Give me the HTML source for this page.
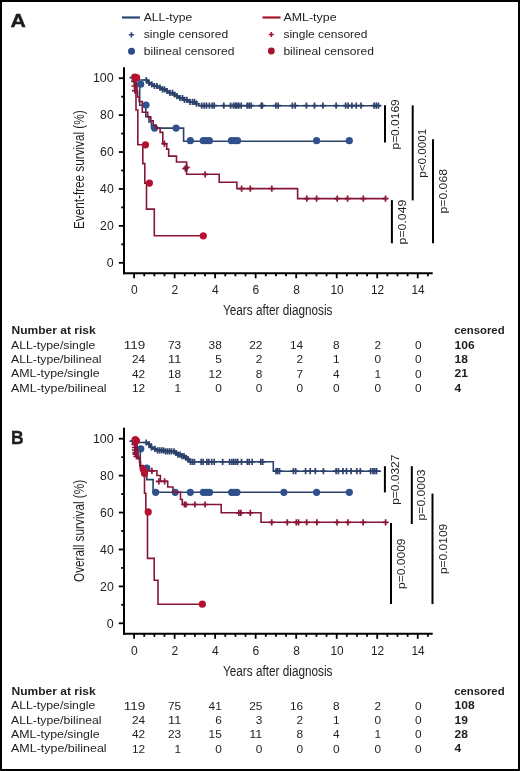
<!DOCTYPE html>
<html><head><meta charset="utf-8"><title>Figure</title>
<style>html,body{margin:0;padding:0;background:#fff;width:520px;height:771px;overflow:hidden}svg{display:block;will-change:transform}</style>
</head><body>
<svg width="520" height="771" viewBox="0 0 520 771">
<rect x="0" y="0" width="520" height="771" fill="#fff"/>
<g font-family='"Liberation Sans", sans-serif'>
<text x="10.6" y="26.7" font-size="19" fill="#1e1e1e" font-weight="bold" textLength="15.4" lengthAdjust="spacingAndGlyphs" stroke="#1e1e1e" stroke-width="0.4">A</text>
<text x="11.0" y="443.8" font-size="19" fill="#1e1e1e" font-weight="bold" textLength="12.6" lengthAdjust="spacingAndGlyphs" stroke="#1e1e1e" stroke-width="0.4">B</text>
<line x1="122" y1="17.5" x2="140" y2="17.5" stroke="#2c4677" stroke-width="2.2"/>
<line x1="262.5" y1="17.5" x2="280.5" y2="17.5" stroke="#a3122f" stroke-width="2.2"/>
<path d="M128.8,34.8H134.0M131.4,32.2V37.4" stroke="#2c4677" stroke-width="1.6" fill="none"/>
<path d="M268.7,34.5H273.9M271.3,31.9V37.1" stroke="#a3122f" stroke-width="1.6" fill="none"/>
<circle cx="131.5" cy="51.3" r="3.5" fill="#2d4c8a"/>
<circle cx="271.3" cy="51.0" r="3.4" fill="#a8102e"/>
<text x="143.8" y="21.0" font-size="11.2" fill="#1e1e1e" textLength="48.4" lengthAdjust="spacingAndGlyphs">ALL-type</text>
<text x="143.8" y="38.0" font-size="11.2" fill="#1e1e1e" textLength="84.4" lengthAdjust="spacingAndGlyphs">single censored</text>
<text x="143.8" y="54.5" font-size="11.2" fill="#1e1e1e" textLength="90.6" lengthAdjust="spacingAndGlyphs">bilineal censored</text>
<text x="283.4" y="21.0" font-size="11.2" fill="#1e1e1e" textLength="53.2" lengthAdjust="spacingAndGlyphs">AML-type</text>
<text x="283.4" y="38.0" font-size="11.2" fill="#1e1e1e" textLength="84.0" lengthAdjust="spacingAndGlyphs">single censored</text>
<text x="283.4" y="54.5" font-size="11.2" fill="#1e1e1e" textLength="90.6" lengthAdjust="spacingAndGlyphs">bilineal censored</text>
<line x1="124" y1="67.3" x2="124" y2="274.3" stroke="#000" stroke-width="2"/>
<line x1="123" y1="273.3" x2="432.7" y2="273.3" stroke="#000" stroke-width="2"/>
<line x1="118.8" y1="262.80" x2="124" y2="262.80" stroke="#000" stroke-width="1.8"/>
<text x="113.7" y="267.00" font-size="12" fill="#1e1e1e" text-anchor="end" textLength="6.9" lengthAdjust="spacingAndGlyphs">0</text>
<line x1="121.2" y1="244.34" x2="124" y2="244.34" stroke="#000" stroke-width="1.8"/>
<line x1="118.8" y1="225.88" x2="124" y2="225.88" stroke="#000" stroke-width="1.8"/>
<text x="113.7" y="230.08" font-size="12" fill="#1e1e1e" text-anchor="end" textLength="13.6" lengthAdjust="spacingAndGlyphs">20</text>
<line x1="121.2" y1="207.42" x2="124" y2="207.42" stroke="#000" stroke-width="1.8"/>
<line x1="118.8" y1="188.96" x2="124" y2="188.96" stroke="#000" stroke-width="1.8"/>
<text x="113.7" y="193.16" font-size="12" fill="#1e1e1e" text-anchor="end" textLength="13.6" lengthAdjust="spacingAndGlyphs">40</text>
<line x1="121.2" y1="170.50" x2="124" y2="170.50" stroke="#000" stroke-width="1.8"/>
<line x1="118.8" y1="152.04" x2="124" y2="152.04" stroke="#000" stroke-width="1.8"/>
<text x="113.7" y="156.24" font-size="12" fill="#1e1e1e" text-anchor="end" textLength="13.6" lengthAdjust="spacingAndGlyphs">60</text>
<line x1="121.2" y1="133.58" x2="124" y2="133.58" stroke="#000" stroke-width="1.8"/>
<line x1="118.8" y1="115.12" x2="124" y2="115.12" stroke="#000" stroke-width="1.8"/>
<text x="113.7" y="119.32" font-size="12" fill="#1e1e1e" text-anchor="end" textLength="13.6" lengthAdjust="spacingAndGlyphs">80</text>
<line x1="121.2" y1="96.66" x2="124" y2="96.66" stroke="#000" stroke-width="1.8"/>
<line x1="118.8" y1="78.20" x2="124" y2="78.20" stroke="#000" stroke-width="1.8"/>
<text x="113.7" y="82.40" font-size="12" fill="#1e1e1e" text-anchor="end" textLength="20.8" lengthAdjust="spacingAndGlyphs">100</text>
<line x1="134.10" y1="273.3" x2="134.10" y2="278.3" stroke="#000" stroke-width="1.8"/>
<text x="134.40" y="294.0" font-size="12" fill="#1e1e1e" text-anchor="middle" textLength="6.7" lengthAdjust="spacingAndGlyphs">0</text>
<line x1="144.23" y1="273.3" x2="144.23" y2="276.3" stroke="#000" stroke-width="1.8"/>
<line x1="154.36" y1="273.3" x2="154.36" y2="276.3" stroke="#000" stroke-width="1.8"/>
<line x1="164.49" y1="273.3" x2="164.49" y2="276.3" stroke="#000" stroke-width="1.8"/>
<line x1="174.62" y1="273.3" x2="174.62" y2="278.3" stroke="#000" stroke-width="1.8"/>
<text x="174.92" y="294.0" font-size="12" fill="#1e1e1e" text-anchor="middle" textLength="6.7" lengthAdjust="spacingAndGlyphs">2</text>
<line x1="184.75" y1="273.3" x2="184.75" y2="276.3" stroke="#000" stroke-width="1.8"/>
<line x1="194.88" y1="273.3" x2="194.88" y2="276.3" stroke="#000" stroke-width="1.8"/>
<line x1="205.01" y1="273.3" x2="205.01" y2="276.3" stroke="#000" stroke-width="1.8"/>
<line x1="215.14" y1="273.3" x2="215.14" y2="278.3" stroke="#000" stroke-width="1.8"/>
<text x="215.44" y="294.0" font-size="12" fill="#1e1e1e" text-anchor="middle" textLength="6.7" lengthAdjust="spacingAndGlyphs">4</text>
<line x1="225.27" y1="273.3" x2="225.27" y2="276.3" stroke="#000" stroke-width="1.8"/>
<line x1="235.40" y1="273.3" x2="235.40" y2="276.3" stroke="#000" stroke-width="1.8"/>
<line x1="245.53" y1="273.3" x2="245.53" y2="276.3" stroke="#000" stroke-width="1.8"/>
<line x1="255.66" y1="273.3" x2="255.66" y2="278.3" stroke="#000" stroke-width="1.8"/>
<text x="255.96" y="294.0" font-size="12" fill="#1e1e1e" text-anchor="middle" textLength="6.7" lengthAdjust="spacingAndGlyphs">6</text>
<line x1="265.79" y1="273.3" x2="265.79" y2="276.3" stroke="#000" stroke-width="1.8"/>
<line x1="275.92" y1="273.3" x2="275.92" y2="276.3" stroke="#000" stroke-width="1.8"/>
<line x1="286.05" y1="273.3" x2="286.05" y2="276.3" stroke="#000" stroke-width="1.8"/>
<line x1="296.18" y1="273.3" x2="296.18" y2="278.3" stroke="#000" stroke-width="1.8"/>
<text x="296.48" y="294.0" font-size="12" fill="#1e1e1e" text-anchor="middle" textLength="6.7" lengthAdjust="spacingAndGlyphs">8</text>
<line x1="306.31" y1="273.3" x2="306.31" y2="276.3" stroke="#000" stroke-width="1.8"/>
<line x1="316.44" y1="273.3" x2="316.44" y2="276.3" stroke="#000" stroke-width="1.8"/>
<line x1="326.57" y1="273.3" x2="326.57" y2="276.3" stroke="#000" stroke-width="1.8"/>
<line x1="336.70" y1="273.3" x2="336.70" y2="278.3" stroke="#000" stroke-width="1.8"/>
<text x="337.00" y="294.0" font-size="12" fill="#1e1e1e" text-anchor="middle" textLength="13.2" lengthAdjust="spacingAndGlyphs">10</text>
<line x1="346.83" y1="273.3" x2="346.83" y2="276.3" stroke="#000" stroke-width="1.8"/>
<line x1="356.96" y1="273.3" x2="356.96" y2="276.3" stroke="#000" stroke-width="1.8"/>
<line x1="367.09" y1="273.3" x2="367.09" y2="276.3" stroke="#000" stroke-width="1.8"/>
<line x1="377.22" y1="273.3" x2="377.22" y2="278.3" stroke="#000" stroke-width="1.8"/>
<text x="377.52" y="294.0" font-size="12" fill="#1e1e1e" text-anchor="middle" textLength="13.2" lengthAdjust="spacingAndGlyphs">12</text>
<line x1="387.35" y1="273.3" x2="387.35" y2="276.3" stroke="#000" stroke-width="1.8"/>
<line x1="397.48" y1="273.3" x2="397.48" y2="276.3" stroke="#000" stroke-width="1.8"/>
<line x1="407.61" y1="273.3" x2="407.61" y2="276.3" stroke="#000" stroke-width="1.8"/>
<line x1="417.74" y1="273.3" x2="417.74" y2="278.3" stroke="#000" stroke-width="1.8"/>
<text x="418.04" y="294.0" font-size="12" fill="#1e1e1e" text-anchor="middle" textLength="13.2" lengthAdjust="spacingAndGlyphs">14</text>
<line x1="427.87" y1="273.3" x2="427.87" y2="276.3" stroke="#000" stroke-width="1.8"/>
<text x="223.0" y="315.0" font-size="15.5" fill="#1e1e1e" textLength="109.5" lengthAdjust="spacingAndGlyphs">Years after diagnosis</text>
<text x="83.6" y="169.7" font-size="15.5" fill="#1e1e1e" text-anchor="middle" textLength="118.5" lengthAdjust="spacingAndGlyphs" transform="rotate(-90 83.6 169.7)">Event-free survival (%)</text>
<path d="M134.1,78.3 H136.5 V84.2 H139.7 V105.2 H145.8 V116.6 H149 V122 H151.5 V128.1 H183.6 V141.2 H349.3" stroke="#2b406a" stroke-width="1.6" fill="none" stroke-linejoin="miter" stroke-linecap="butt"/>
<path d="M134.1,78.3 H135.6 V80.0 H147.2 V81.4 H148.9 V82.9 H150.6 V84.3 H151.5 H153.4 V86.0 H157.3 V87.6 H161.2 V89.3 H163.1 H165.0 V91.0 H168.8 V92.8 H172.7 V94.5 H174.6 H176.1 V96.2 H178.9 V98.0 H180.4 H183.3 V99.9 H189.1 V101.8 H192.0 H195.3 V103.7 H198.7 V105.7 H380.5" stroke="#2b406a" stroke-width="1.6" fill="none" stroke-linejoin="miter" stroke-linecap="butt"/>
<path d="M143.2,80.0H149.4M146.3,76.9V83.1" stroke="#2b406a" stroke-width="1.7" fill="none"/>
<path d="M145.9,82.9H152.1M149.0,79.8V86.0" stroke="#2b406a" stroke-width="1.7" fill="none"/>
<path d="M148.7,84.3H154.9M151.8,81.2V87.4" stroke="#2b406a" stroke-width="1.7" fill="none"/>
<path d="M151.4,86.0H157.6M154.5,82.9V89.1" stroke="#2b406a" stroke-width="1.7" fill="none"/>
<path d="M153.9,86.0H160.1M157.0,82.9V89.1" stroke="#2b406a" stroke-width="1.7" fill="none"/>
<path d="M156.9,87.6H163.1M160.0,84.5V90.7" stroke="#2b406a" stroke-width="1.7" fill="none"/>
<path d="M159.4,89.3H165.6M162.5,86.2V92.4" stroke="#2b406a" stroke-width="1.7" fill="none"/>
<path d="M161.4,89.3H167.6M164.5,86.2V92.4" stroke="#2b406a" stroke-width="1.7" fill="none"/>
<path d="M163.9,91.0H170.1M167.0,87.9V94.1" stroke="#2b406a" stroke-width="1.7" fill="none"/>
<path d="M166.9,92.8H173.1M170.0,89.7V95.9" stroke="#2b406a" stroke-width="1.7" fill="none"/>
<path d="M169.4,92.8H175.6M172.5,89.7V95.9" stroke="#2b406a" stroke-width="1.7" fill="none"/>
<path d="M171.4,94.5H177.6M174.5,91.4V97.6" stroke="#2b406a" stroke-width="1.7" fill="none"/>
<path d="M173.9,96.2H180.1M177.0,93.1V99.3" stroke="#2b406a" stroke-width="1.7" fill="none"/>
<path d="M176.9,98.0H183.1M180.0,94.9V101.1" stroke="#2b406a" stroke-width="1.7" fill="none"/>
<path d="M179.4,98.0H185.6M182.5,94.9V101.1" stroke="#2b406a" stroke-width="1.7" fill="none"/>
<path d="M181.4,99.9H187.6M184.5,96.8V103.0" stroke="#2b406a" stroke-width="1.7" fill="none"/>
<path d="M183.9,99.9H190.1M187.0,96.8V103.0" stroke="#2b406a" stroke-width="1.7" fill="none"/>
<path d="M186.9,101.8H193.1M190.0,98.7V104.9" stroke="#2b406a" stroke-width="1.7" fill="none"/>
<path d="M189.4,101.8H195.6M192.5,98.7V104.9" stroke="#2b406a" stroke-width="1.7" fill="none"/>
<path d="M191.4,101.8H197.6M194.5,98.7V104.9" stroke="#2b406a" stroke-width="1.7" fill="none"/>
<path d="M193.4,103.7H199.6M196.5,100.6V106.8" stroke="#2b406a" stroke-width="1.7" fill="none"/>
<path d="M198.6,105.7H204.8M201.7,102.6V108.8" stroke="#2b406a" stroke-width="1.7" fill="none"/>
<path d="M201.1,105.7H207.3M204.2,102.6V108.8" stroke="#2b406a" stroke-width="1.7" fill="none"/>
<path d="M203.4,105.7H209.6M206.5,102.6V108.8" stroke="#2b406a" stroke-width="1.7" fill="none"/>
<path d="M206.3,105.7H212.5M209.4,102.6V108.8" stroke="#2b406a" stroke-width="1.7" fill="none"/>
<path d="M209.2,105.7H215.4M212.3,102.6V108.8" stroke="#2b406a" stroke-width="1.7" fill="none"/>
<path d="M211.1,105.7H217.3M214.2,102.6V108.8" stroke="#2b406a" stroke-width="1.7" fill="none"/>
<path d="M220.7,105.7H226.9M223.8,102.6V108.8" stroke="#2b406a" stroke-width="1.7" fill="none"/>
<path d="M227.5,105.7H233.7M230.6,102.6V108.8" stroke="#2b406a" stroke-width="1.7" fill="none"/>
<path d="M230.4,105.7H236.6M233.5,102.6V108.8" stroke="#2b406a" stroke-width="1.7" fill="none"/>
<path d="M232.3,105.7H238.5M235.4,102.6V108.8" stroke="#2b406a" stroke-width="1.7" fill="none"/>
<path d="M233.8,105.7H240.0M236.9,102.6V108.8" stroke="#2b406a" stroke-width="1.7" fill="none"/>
<path d="M235.7,105.7H241.9M238.8,102.6V108.8" stroke="#2b406a" stroke-width="1.7" fill="none"/>
<path d="M238.1,105.7H244.3M241.2,102.6V108.8" stroke="#2b406a" stroke-width="1.7" fill="none"/>
<path d="M244.2,105.7H250.4M247.3,102.6V108.8" stroke="#2b406a" stroke-width="1.7" fill="none"/>
<path d="M246.1,105.7H252.3M249.2,102.6V108.8" stroke="#2b406a" stroke-width="1.7" fill="none"/>
<path d="M248.1,105.7H254.3M251.2,102.6V108.8" stroke="#2b406a" stroke-width="1.7" fill="none"/>
<path d="M258.2,105.7H264.4M261.3,102.6V108.8" stroke="#2b406a" stroke-width="1.7" fill="none"/>
<path d="M259.2,105.7H265.4M262.3,102.6V108.8" stroke="#2b406a" stroke-width="1.7" fill="none"/>
<path d="M272.7,105.7H278.9M275.8,102.6V108.8" stroke="#2b406a" stroke-width="1.7" fill="none"/>
<path d="M275.0,105.7H281.2M278.1,102.6V108.8" stroke="#2b406a" stroke-width="1.7" fill="none"/>
<path d="M289.3,105.7H295.5M292.4,102.6V108.8" stroke="#2b406a" stroke-width="1.7" fill="none"/>
<path d="M292.1,105.7H298.3M295.2,102.6V108.8" stroke="#2b406a" stroke-width="1.7" fill="none"/>
<path d="M303.3,105.7H309.5M306.4,102.6V108.8" stroke="#2b406a" stroke-width="1.7" fill="none"/>
<path d="M311.4,105.7H317.6M314.5,102.6V108.8" stroke="#2b406a" stroke-width="1.7" fill="none"/>
<path d="M319.8,105.7H326.0M322.9,102.6V108.8" stroke="#2b406a" stroke-width="1.7" fill="none"/>
<path d="M333.0,105.7H339.2M336.1,102.6V108.8" stroke="#2b406a" stroke-width="1.7" fill="none"/>
<path d="M342.5,105.7H348.7M345.6,102.6V108.8" stroke="#2b406a" stroke-width="1.7" fill="none"/>
<path d="M345.0,105.7H351.2M348.1,102.6V108.8" stroke="#2b406a" stroke-width="1.7" fill="none"/>
<path d="M348.8,105.7H355.0M351.9,102.6V108.8" stroke="#2b406a" stroke-width="1.7" fill="none"/>
<path d="M353.1,105.7H359.3M356.2,102.6V108.8" stroke="#2b406a" stroke-width="1.7" fill="none"/>
<path d="M357.9,105.7H364.1M361.0,102.6V108.8" stroke="#2b406a" stroke-width="1.7" fill="none"/>
<path d="M371.0,105.7H377.2M374.1,102.6V108.8" stroke="#2b406a" stroke-width="1.7" fill="none"/>
<path d="M373.2,105.7H379.4M376.3,102.6V108.8" stroke="#2b406a" stroke-width="1.7" fill="none"/>
<path d="M375.3,105.7H381.5M378.4,102.6V108.8" stroke="#2b406a" stroke-width="1.7" fill="none"/>
<path d="M129.5,77.6H135.7M132.6,74.5V80.7" stroke="#2b406a" stroke-width="1.7" fill="none"/>
<circle cx="140.7" cy="84.2" r="3.6" fill="#30508c"/>
<circle cx="146.0" cy="105.0" r="3.6" fill="#30508c"/>
<circle cx="154.6" cy="128.1" r="3.6" fill="#30508c"/>
<circle cx="176.1" cy="128.1" r="3.6" fill="#30508c"/>
<circle cx="190.3" cy="140.7" r="3.6" fill="#30508c"/>
<circle cx="203.3" cy="140.7" r="3.6" fill="#30508c"/>
<circle cx="206.3" cy="140.7" r="3.6" fill="#30508c"/>
<circle cx="209.4" cy="140.7" r="3.6" fill="#30508c"/>
<circle cx="231.4" cy="140.7" r="3.6" fill="#30508c"/>
<circle cx="234.5" cy="140.7" r="3.6" fill="#30508c"/>
<circle cx="237.5" cy="140.7" r="3.6" fill="#30508c"/>
<circle cx="316.6" cy="140.7" r="3.6" fill="#30508c"/>
<circle cx="349.3" cy="140.7" r="3.6" fill="#30508c"/>
<path d="M134.1,78.3 H136 V110 H137.8 V144.8 H142.8 V163.6 H144.8 V183.1 H146.5 V209.1 H154.3 V235.8 H203.3" stroke="#871636" stroke-width="1.6" fill="none" stroke-linejoin="miter" stroke-linecap="butt"/>
<path d="M134.1,78.3 H135 V82 H136 V87 H137 V92 H137.6 V97 H139.2 V101.5 H142.3 V112.3 H147.7 V116.9 H150.8 V120.8 H153.2 V125 H156 V128.1 H160.1 V132.4 H162.8 V143.7 H166.7 V149.1 H168.7 V156.1 H176.5 V162 H186.6 V174.3 H219.2 V182.2 H236.9 V188.6 H297.6 V198.6 H386.5" stroke="#871636" stroke-width="1.6" fill="none" stroke-linejoin="miter" stroke-linecap="butt"/>
<path d="M131.1,81.3H137.3M134.2,78.2V84.4" stroke="#871636" stroke-width="1.7" fill="none"/>
<path d="M131.4,86.0H137.6M134.5,82.9V89.1" stroke="#871636" stroke-width="1.7" fill="none"/>
<path d="M131.9,90.7H138.1M135.0,87.6V93.8" stroke="#871636" stroke-width="1.7" fill="none"/>
<path d="M161.3,143.7H167.5M164.4,140.6V146.8" stroke="#871636" stroke-width="1.7" fill="none"/>
<path d="M183.5,167.3H189.7M186.6,164.2V170.4" stroke="#871636" stroke-width="1.7" fill="none"/>
<path d="M182.3,168.6H188.5M185.4,165.5V171.7" stroke="#871636" stroke-width="1.7" fill="none"/>
<path d="M202.1,174.3H208.3M205.2,171.2V177.4" stroke="#871636" stroke-width="1.7" fill="none"/>
<path d="M238.5,188.6H244.7M241.6,185.5V191.7" stroke="#871636" stroke-width="1.7" fill="none"/>
<path d="M247.2,188.6H253.4M250.3,185.5V191.7" stroke="#871636" stroke-width="1.7" fill="none"/>
<path d="M268.7,188.6H274.9M271.8,185.5V191.7" stroke="#871636" stroke-width="1.7" fill="none"/>
<path d="M303.7,198.6H309.9M306.8,195.5V201.7" stroke="#871636" stroke-width="1.7" fill="none"/>
<path d="M313.5,198.6H319.7M316.6,195.5V201.7" stroke="#871636" stroke-width="1.7" fill="none"/>
<path d="M334.1,198.6H340.3M337.2,195.5V201.7" stroke="#871636" stroke-width="1.7" fill="none"/>
<path d="M344.5,198.6H350.7M347.6,195.5V201.7" stroke="#871636" stroke-width="1.7" fill="none"/>
<path d="M360.2,198.6H366.4M363.3,195.5V201.7" stroke="#871636" stroke-width="1.7" fill="none"/>
<path d="M382.4,198.6H388.6M385.5,195.5V201.7" stroke="#871636" stroke-width="1.7" fill="none"/>
<circle cx="134.8" cy="77.2" r="3.6" fill="#b5102f"/>
<circle cx="136.6" cy="77.6" r="3.6" fill="#b5102f"/>
<circle cx="145.5" cy="144.8" r="3.6" fill="#b5102f"/>
<circle cx="149.4" cy="183.1" r="3.6" fill="#b5102f"/>
<circle cx="203.3" cy="235.8" r="3.6" fill="#b5102f"/>
<line x1="385" y1="105.2" x2="385" y2="142.5" stroke="#000" stroke-width="2"/>
<line x1="412.7" y1="105.4" x2="412.7" y2="200.4" stroke="#000" stroke-width="2"/>
<line x1="433" y1="139.3" x2="433" y2="243.3" stroke="#000" stroke-width="2"/>
<line x1="391.9" y1="200.1" x2="391.9" y2="243.3" stroke="#000" stroke-width="2"/>
<text x="399.2" y="124.4" font-size="11" fill="#1e1e1e" text-anchor="middle" textLength="50.2" lengthAdjust="spacingAndGlyphs" transform="rotate(-90 399.2 124.4)">p=0.0169</text>
<text x="426.4" y="153.35" font-size="11" fill="#1e1e1e" text-anchor="middle" textLength="49.0" lengthAdjust="spacingAndGlyphs" transform="rotate(-90 426.4 153.35)">p&lt;0.0001</text>
<text x="446.7" y="191.25" font-size="11" fill="#1e1e1e" text-anchor="middle" textLength="44.6" lengthAdjust="spacingAndGlyphs" transform="rotate(-90 446.7 191.25)">p=0.068</text>
<text x="406.0" y="222.0" font-size="11" fill="#1e1e1e" text-anchor="middle" textLength="44.8" lengthAdjust="spacingAndGlyphs" transform="rotate(-90 406.0 222.0)">p=0.049</text>
<text x="11.5" y="334.4" font-size="11" fill="#1e1e1e" font-weight="bold" textLength="84.2" lengthAdjust="spacingAndGlyphs">Number at risk</text>
<text x="454.2" y="334.4" font-size="11" fill="#1e1e1e" font-weight="bold" textLength="50.4" lengthAdjust="spacingAndGlyphs">censored</text>
<text x="11.0" y="348.68" font-size="11" fill="#1e1e1e" textLength="84.2" lengthAdjust="spacingAndGlyphs">ALL-type/single</text>
<text x="145.2" y="349.18" font-size="11" fill="#1e1e1e" text-anchor="end" textLength="21.5" lengthAdjust="spacingAndGlyphs">119</text>
<text x="181.2" y="349.18" font-size="11" fill="#1e1e1e" text-anchor="end" textLength="13.2" lengthAdjust="spacingAndGlyphs">73</text>
<text x="221.8" y="349.18" font-size="11" fill="#1e1e1e" text-anchor="end" textLength="13.2" lengthAdjust="spacingAndGlyphs">38</text>
<text x="262.4" y="349.18" font-size="11" fill="#1e1e1e" text-anchor="end" textLength="13.2" lengthAdjust="spacingAndGlyphs">22</text>
<text x="303.2" y="349.18" font-size="11" fill="#1e1e1e" text-anchor="end" textLength="13.2" lengthAdjust="spacingAndGlyphs">14</text>
<text x="339.6" y="349.18" font-size="11" fill="#1e1e1e" text-anchor="end" textLength="6.6" lengthAdjust="spacingAndGlyphs">8</text>
<text x="381.2" y="349.18" font-size="11" fill="#1e1e1e" text-anchor="end" textLength="6.6" lengthAdjust="spacingAndGlyphs">2</text>
<text x="421.6" y="349.18" font-size="11" fill="#1e1e1e" text-anchor="end" textLength="6.6" lengthAdjust="spacingAndGlyphs">0</text>
<text x="454.6" y="348.68" font-size="11" fill="#1e1e1e" font-weight="bold" textLength="20.1" lengthAdjust="spacingAndGlyphs">106</text>
<text x="11.0" y="362.96" font-size="11" fill="#1e1e1e" textLength="90.6" lengthAdjust="spacingAndGlyphs">ALL-type/bilineal</text>
<text x="145.2" y="363.46" font-size="11" fill="#1e1e1e" text-anchor="end" textLength="13.2" lengthAdjust="spacingAndGlyphs">24</text>
<text x="181.2" y="363.46" font-size="11" fill="#1e1e1e" text-anchor="end" textLength="13.2" lengthAdjust="spacingAndGlyphs">11</text>
<text x="221.8" y="363.46" font-size="11" fill="#1e1e1e" text-anchor="end" textLength="6.6" lengthAdjust="spacingAndGlyphs">5</text>
<text x="262.4" y="363.46" font-size="11" fill="#1e1e1e" text-anchor="end" textLength="6.6" lengthAdjust="spacingAndGlyphs">2</text>
<text x="303.2" y="363.46" font-size="11" fill="#1e1e1e" text-anchor="end" textLength="6.6" lengthAdjust="spacingAndGlyphs">2</text>
<text x="339.6" y="363.46" font-size="11" fill="#1e1e1e" text-anchor="end" textLength="6.6" lengthAdjust="spacingAndGlyphs">1</text>
<text x="381.2" y="363.46" font-size="11" fill="#1e1e1e" text-anchor="end" textLength="6.6" lengthAdjust="spacingAndGlyphs">0</text>
<text x="421.6" y="363.46" font-size="11" fill="#1e1e1e" text-anchor="end" textLength="6.6" lengthAdjust="spacingAndGlyphs">0</text>
<text x="454.6" y="362.96" font-size="11" fill="#1e1e1e" font-weight="bold" textLength="13.4" lengthAdjust="spacingAndGlyphs">18</text>
<text x="11.0" y="377.24" font-size="11" fill="#1e1e1e" textLength="88.6" lengthAdjust="spacingAndGlyphs">AML-type/single</text>
<text x="145.2" y="377.74" font-size="11" fill="#1e1e1e" text-anchor="end" textLength="13.2" lengthAdjust="spacingAndGlyphs">42</text>
<text x="181.2" y="377.74" font-size="11" fill="#1e1e1e" text-anchor="end" textLength="13.2" lengthAdjust="spacingAndGlyphs">18</text>
<text x="221.8" y="377.74" font-size="11" fill="#1e1e1e" text-anchor="end" textLength="13.2" lengthAdjust="spacingAndGlyphs">12</text>
<text x="262.4" y="377.74" font-size="11" fill="#1e1e1e" text-anchor="end" textLength="6.6" lengthAdjust="spacingAndGlyphs">8</text>
<text x="303.2" y="377.74" font-size="11" fill="#1e1e1e" text-anchor="end" textLength="6.6" lengthAdjust="spacingAndGlyphs">7</text>
<text x="339.6" y="377.74" font-size="11" fill="#1e1e1e" text-anchor="end" textLength="6.6" lengthAdjust="spacingAndGlyphs">4</text>
<text x="381.2" y="377.74" font-size="11" fill="#1e1e1e" text-anchor="end" textLength="6.6" lengthAdjust="spacingAndGlyphs">1</text>
<text x="421.6" y="377.74" font-size="11" fill="#1e1e1e" text-anchor="end" textLength="6.6" lengthAdjust="spacingAndGlyphs">0</text>
<text x="454.6" y="377.24" font-size="11" fill="#1e1e1e" font-weight="bold" textLength="13.4" lengthAdjust="spacingAndGlyphs">21</text>
<text x="11.0" y="391.52" font-size="11" fill="#1e1e1e" textLength="95.6" lengthAdjust="spacingAndGlyphs">AML-type/bilineal</text>
<text x="145.2" y="392.02" font-size="11" fill="#1e1e1e" text-anchor="end" textLength="13.2" lengthAdjust="spacingAndGlyphs">12</text>
<text x="181.2" y="392.02" font-size="11" fill="#1e1e1e" text-anchor="end" textLength="6.6" lengthAdjust="spacingAndGlyphs">1</text>
<text x="221.8" y="392.02" font-size="11" fill="#1e1e1e" text-anchor="end" textLength="6.6" lengthAdjust="spacingAndGlyphs">0</text>
<text x="262.4" y="392.02" font-size="11" fill="#1e1e1e" text-anchor="end" textLength="6.6" lengthAdjust="spacingAndGlyphs">0</text>
<text x="303.2" y="392.02" font-size="11" fill="#1e1e1e" text-anchor="end" textLength="6.6" lengthAdjust="spacingAndGlyphs">0</text>
<text x="339.6" y="392.02" font-size="11" fill="#1e1e1e" text-anchor="end" textLength="6.6" lengthAdjust="spacingAndGlyphs">0</text>
<text x="381.2" y="392.02" font-size="11" fill="#1e1e1e" text-anchor="end" textLength="6.6" lengthAdjust="spacingAndGlyphs">0</text>
<text x="421.6" y="392.02" font-size="11" fill="#1e1e1e" text-anchor="end" textLength="6.6" lengthAdjust="spacingAndGlyphs">0</text>
<text x="454.6" y="391.52" font-size="11" fill="#1e1e1e" font-weight="bold" textLength="6.7" lengthAdjust="spacingAndGlyphs">4</text>
<line x1="124" y1="427.8" x2="124" y2="634.8" stroke="#000" stroke-width="2"/>
<line x1="123" y1="633.8" x2="432.7" y2="633.8" stroke="#000" stroke-width="2"/>
<line x1="118.8" y1="623.30" x2="124" y2="623.30" stroke="#000" stroke-width="1.8"/>
<text x="113.7" y="627.50" font-size="12" fill="#1e1e1e" text-anchor="end" textLength="6.9" lengthAdjust="spacingAndGlyphs">0</text>
<line x1="121.2" y1="604.84" x2="124" y2="604.84" stroke="#000" stroke-width="1.8"/>
<line x1="118.8" y1="586.38" x2="124" y2="586.38" stroke="#000" stroke-width="1.8"/>
<text x="113.7" y="590.58" font-size="12" fill="#1e1e1e" text-anchor="end" textLength="13.6" lengthAdjust="spacingAndGlyphs">20</text>
<line x1="121.2" y1="567.92" x2="124" y2="567.92" stroke="#000" stroke-width="1.8"/>
<line x1="118.8" y1="549.46" x2="124" y2="549.46" stroke="#000" stroke-width="1.8"/>
<text x="113.7" y="553.66" font-size="12" fill="#1e1e1e" text-anchor="end" textLength="13.6" lengthAdjust="spacingAndGlyphs">40</text>
<line x1="121.2" y1="531.00" x2="124" y2="531.00" stroke="#000" stroke-width="1.8"/>
<line x1="118.8" y1="512.54" x2="124" y2="512.54" stroke="#000" stroke-width="1.8"/>
<text x="113.7" y="516.74" font-size="12" fill="#1e1e1e" text-anchor="end" textLength="13.6" lengthAdjust="spacingAndGlyphs">60</text>
<line x1="121.2" y1="494.08" x2="124" y2="494.08" stroke="#000" stroke-width="1.8"/>
<line x1="118.8" y1="475.62" x2="124" y2="475.62" stroke="#000" stroke-width="1.8"/>
<text x="113.7" y="479.82" font-size="12" fill="#1e1e1e" text-anchor="end" textLength="13.6" lengthAdjust="spacingAndGlyphs">80</text>
<line x1="121.2" y1="457.16" x2="124" y2="457.16" stroke="#000" stroke-width="1.8"/>
<line x1="118.8" y1="438.70" x2="124" y2="438.70" stroke="#000" stroke-width="1.8"/>
<text x="113.7" y="442.90" font-size="12" fill="#1e1e1e" text-anchor="end" textLength="20.8" lengthAdjust="spacingAndGlyphs">100</text>
<line x1="134.10" y1="633.8" x2="134.10" y2="638.8" stroke="#000" stroke-width="1.8"/>
<text x="134.40" y="654.5" font-size="12" fill="#1e1e1e" text-anchor="middle" textLength="6.7" lengthAdjust="spacingAndGlyphs">0</text>
<line x1="144.23" y1="633.8" x2="144.23" y2="636.8" stroke="#000" stroke-width="1.8"/>
<line x1="154.36" y1="633.8" x2="154.36" y2="636.8" stroke="#000" stroke-width="1.8"/>
<line x1="164.49" y1="633.8" x2="164.49" y2="636.8" stroke="#000" stroke-width="1.8"/>
<line x1="174.62" y1="633.8" x2="174.62" y2="638.8" stroke="#000" stroke-width="1.8"/>
<text x="174.92" y="654.5" font-size="12" fill="#1e1e1e" text-anchor="middle" textLength="6.7" lengthAdjust="spacingAndGlyphs">2</text>
<line x1="184.75" y1="633.8" x2="184.75" y2="636.8" stroke="#000" stroke-width="1.8"/>
<line x1="194.88" y1="633.8" x2="194.88" y2="636.8" stroke="#000" stroke-width="1.8"/>
<line x1="205.01" y1="633.8" x2="205.01" y2="636.8" stroke="#000" stroke-width="1.8"/>
<line x1="215.14" y1="633.8" x2="215.14" y2="638.8" stroke="#000" stroke-width="1.8"/>
<text x="215.44" y="654.5" font-size="12" fill="#1e1e1e" text-anchor="middle" textLength="6.7" lengthAdjust="spacingAndGlyphs">4</text>
<line x1="225.27" y1="633.8" x2="225.27" y2="636.8" stroke="#000" stroke-width="1.8"/>
<line x1="235.40" y1="633.8" x2="235.40" y2="636.8" stroke="#000" stroke-width="1.8"/>
<line x1="245.53" y1="633.8" x2="245.53" y2="636.8" stroke="#000" stroke-width="1.8"/>
<line x1="255.66" y1="633.8" x2="255.66" y2="638.8" stroke="#000" stroke-width="1.8"/>
<text x="255.96" y="654.5" font-size="12" fill="#1e1e1e" text-anchor="middle" textLength="6.7" lengthAdjust="spacingAndGlyphs">6</text>
<line x1="265.79" y1="633.8" x2="265.79" y2="636.8" stroke="#000" stroke-width="1.8"/>
<line x1="275.92" y1="633.8" x2="275.92" y2="636.8" stroke="#000" stroke-width="1.8"/>
<line x1="286.05" y1="633.8" x2="286.05" y2="636.8" stroke="#000" stroke-width="1.8"/>
<line x1="296.18" y1="633.8" x2="296.18" y2="638.8" stroke="#000" stroke-width="1.8"/>
<text x="296.48" y="654.5" font-size="12" fill="#1e1e1e" text-anchor="middle" textLength="6.7" lengthAdjust="spacingAndGlyphs">8</text>
<line x1="306.31" y1="633.8" x2="306.31" y2="636.8" stroke="#000" stroke-width="1.8"/>
<line x1="316.44" y1="633.8" x2="316.44" y2="636.8" stroke="#000" stroke-width="1.8"/>
<line x1="326.57" y1="633.8" x2="326.57" y2="636.8" stroke="#000" stroke-width="1.8"/>
<line x1="336.70" y1="633.8" x2="336.70" y2="638.8" stroke="#000" stroke-width="1.8"/>
<text x="337.00" y="654.5" font-size="12" fill="#1e1e1e" text-anchor="middle" textLength="13.2" lengthAdjust="spacingAndGlyphs">10</text>
<line x1="346.83" y1="633.8" x2="346.83" y2="636.8" stroke="#000" stroke-width="1.8"/>
<line x1="356.96" y1="633.8" x2="356.96" y2="636.8" stroke="#000" stroke-width="1.8"/>
<line x1="367.09" y1="633.8" x2="367.09" y2="636.8" stroke="#000" stroke-width="1.8"/>
<line x1="377.22" y1="633.8" x2="377.22" y2="638.8" stroke="#000" stroke-width="1.8"/>
<text x="377.52" y="654.5" font-size="12" fill="#1e1e1e" text-anchor="middle" textLength="13.2" lengthAdjust="spacingAndGlyphs">12</text>
<line x1="387.35" y1="633.8" x2="387.35" y2="636.8" stroke="#000" stroke-width="1.8"/>
<line x1="397.48" y1="633.8" x2="397.48" y2="636.8" stroke="#000" stroke-width="1.8"/>
<line x1="407.61" y1="633.8" x2="407.61" y2="636.8" stroke="#000" stroke-width="1.8"/>
<line x1="417.74" y1="633.8" x2="417.74" y2="638.8" stroke="#000" stroke-width="1.8"/>
<text x="418.04" y="654.5" font-size="12" fill="#1e1e1e" text-anchor="middle" textLength="13.2" lengthAdjust="spacingAndGlyphs">14</text>
<line x1="427.87" y1="633.8" x2="427.87" y2="636.8" stroke="#000" stroke-width="1.8"/>
<text x="223.0" y="675.5" font-size="15.5" fill="#1e1e1e" textLength="109.5" lengthAdjust="spacingAndGlyphs">Years after diagnosis</text>
<text x="83.6" y="530.9" font-size="15.5" fill="#1e1e1e" text-anchor="middle" textLength="102.2" lengthAdjust="spacingAndGlyphs" transform="rotate(-90 83.6 530.9)">Overall survival (%)</text>
<path d="M134.1,438.8 H137 V448.8 H140.3 V468.2 H146.8 V479.6 H153.1 V492.3 H349.3" stroke="#2b406a" stroke-width="1.6" fill="none" stroke-linejoin="miter" stroke-linecap="butt"/>
<path d="M134.1,438.8 H135.2 V442.5 H147.2 V444.1 H149.1 V445.7 H151.1 V447.3 H153.0 V448.9 H154.0 H156.0 V450.3 H158.0 H165.2 V451.4 H172.3 H174.2 V453.0 H178.0 V454.6 H181.7 V456.2 H185.5 V457.8 H187.4 H187.9 V459.1 H189.0 V460.5 H190.1 V461.8 H190.6 H273.3 V471.2 H381.1" stroke="#2b406a" stroke-width="1.6" fill="none" stroke-linejoin="miter" stroke-linecap="butt"/>
<path d="M143.1,442.5H149.3M146.2,439.4V445.6" stroke="#2b406a" stroke-width="1.7" fill="none"/>
<path d="M145.9,444.1H152.1M149.0,441.0V447.2" stroke="#2b406a" stroke-width="1.7" fill="none"/>
<path d="M148.4,447.3H154.6M151.5,444.2V450.4" stroke="#2b406a" stroke-width="1.7" fill="none"/>
<path d="M151.9,448.9H158.1M155.0,445.8V452.0" stroke="#2b406a" stroke-width="1.7" fill="none"/>
<path d="M154.4,450.3H160.6M157.5,447.2V453.4" stroke="#2b406a" stroke-width="1.7" fill="none"/>
<path d="M156.4,450.3H162.6M159.5,447.2V453.4" stroke="#2b406a" stroke-width="1.7" fill="none"/>
<path d="M158.4,450.3H164.6M161.5,447.2V453.4" stroke="#2b406a" stroke-width="1.7" fill="none"/>
<path d="M160.4,450.3H166.6M163.5,447.2V453.4" stroke="#2b406a" stroke-width="1.7" fill="none"/>
<path d="M162.4,451.4H168.6M165.5,448.3V454.5" stroke="#2b406a" stroke-width="1.7" fill="none"/>
<path d="M164.4,451.4H170.6M167.5,448.3V454.5" stroke="#2b406a" stroke-width="1.7" fill="none"/>
<path d="M166.4,451.4H172.6M169.5,448.3V454.5" stroke="#2b406a" stroke-width="1.7" fill="none"/>
<path d="M168.4,451.4H174.6M171.5,448.3V454.5" stroke="#2b406a" stroke-width="1.7" fill="none"/>
<path d="M170.9,451.4H177.1M174.0,448.3V454.5" stroke="#2b406a" stroke-width="1.7" fill="none"/>
<path d="M172.9,453.0H179.1M176.0,449.9V456.1" stroke="#2b406a" stroke-width="1.7" fill="none"/>
<path d="M174.9,454.6H181.1M178.0,451.5V457.7" stroke="#2b406a" stroke-width="1.7" fill="none"/>
<path d="M176.9,454.6H183.1M180.0,451.5V457.7" stroke="#2b406a" stroke-width="1.7" fill="none"/>
<path d="M178.9,456.2H185.1M182.0,453.1V459.3" stroke="#2b406a" stroke-width="1.7" fill="none"/>
<path d="M180.9,456.2H187.1M184.0,453.1V459.3" stroke="#2b406a" stroke-width="1.7" fill="none"/>
<path d="M182.9,457.8H189.1M186.0,454.7V460.9" stroke="#2b406a" stroke-width="1.7" fill="none"/>
<path d="M184.9,459.1H191.1M188.0,456.0V462.2" stroke="#2b406a" stroke-width="1.7" fill="none"/>
<path d="M187.5,461.8H193.7M190.6,458.7V464.9" stroke="#2b406a" stroke-width="1.7" fill="none"/>
<path d="M189.4,461.8H195.6M192.5,458.7V464.9" stroke="#2b406a" stroke-width="1.7" fill="none"/>
<path d="M191.3,461.8H197.5M194.4,458.7V464.9" stroke="#2b406a" stroke-width="1.7" fill="none"/>
<path d="M198.1,461.8H204.3M201.2,458.7V464.9" stroke="#2b406a" stroke-width="1.7" fill="none"/>
<path d="M200.0,461.8H206.2M203.1,458.7V464.9" stroke="#2b406a" stroke-width="1.7" fill="none"/>
<path d="M203.8,461.8H210.0M206.9,458.7V464.9" stroke="#2b406a" stroke-width="1.7" fill="none"/>
<path d="M205.7,461.8H211.9M208.8,458.7V464.9" stroke="#2b406a" stroke-width="1.7" fill="none"/>
<path d="M208.6,461.8H214.8M211.7,458.7V464.9" stroke="#2b406a" stroke-width="1.7" fill="none"/>
<path d="M211.1,461.8H217.3M214.2,458.7V464.9" stroke="#2b406a" stroke-width="1.7" fill="none"/>
<path d="M219.6,461.8H225.8M222.7,458.7V464.9" stroke="#2b406a" stroke-width="1.7" fill="none"/>
<path d="M226.5,461.8H232.7M229.6,458.7V464.9" stroke="#2b406a" stroke-width="1.7" fill="none"/>
<path d="M228.8,461.8H235.0M231.9,458.7V464.9" stroke="#2b406a" stroke-width="1.7" fill="none"/>
<path d="M230.7,461.8H236.9M233.8,458.7V464.9" stroke="#2b406a" stroke-width="1.7" fill="none"/>
<path d="M232.7,461.8H238.9M235.8,458.7V464.9" stroke="#2b406a" stroke-width="1.7" fill="none"/>
<path d="M234.6,461.8H240.8M237.7,458.7V464.9" stroke="#2b406a" stroke-width="1.7" fill="none"/>
<path d="M238.4,461.8H244.6M241.5,458.7V464.9" stroke="#2b406a" stroke-width="1.7" fill="none"/>
<path d="M244.2,461.8H250.4M247.3,458.7V464.9" stroke="#2b406a" stroke-width="1.7" fill="none"/>
<path d="M246.1,461.8H252.3M249.2,458.7V464.9" stroke="#2b406a" stroke-width="1.7" fill="none"/>
<path d="M249.0,461.8H255.2M252.1,458.7V464.9" stroke="#2b406a" stroke-width="1.7" fill="none"/>
<path d="M257.7,461.8H263.9M260.8,458.7V464.9" stroke="#2b406a" stroke-width="1.7" fill="none"/>
<path d="M259.6,461.8H265.8M262.7,458.7V464.9" stroke="#2b406a" stroke-width="1.7" fill="none"/>
<path d="M273.0,471.2H279.2M276.1,468.1V474.3" stroke="#2b406a" stroke-width="1.7" fill="none"/>
<path d="M274.6,471.2H280.8M277.7,468.1V474.3" stroke="#2b406a" stroke-width="1.7" fill="none"/>
<path d="M276.4,471.2H282.6M279.5,468.1V474.3" stroke="#2b406a" stroke-width="1.7" fill="none"/>
<path d="M290.3,471.2H296.5M293.4,468.1V474.3" stroke="#2b406a" stroke-width="1.7" fill="none"/>
<path d="M292.6,471.2H298.8M295.7,468.1V474.3" stroke="#2b406a" stroke-width="1.7" fill="none"/>
<path d="M302.5,471.2H308.7M305.6,468.1V474.3" stroke="#2b406a" stroke-width="1.7" fill="none"/>
<path d="M307.1,471.2H313.3M310.2,468.1V474.3" stroke="#2b406a" stroke-width="1.7" fill="none"/>
<path d="M312.2,471.2H318.4M315.3,468.1V474.3" stroke="#2b406a" stroke-width="1.7" fill="none"/>
<path d="M320.3,471.2H326.5M323.4,468.1V474.3" stroke="#2b406a" stroke-width="1.7" fill="none"/>
<path d="M333.0,471.2H339.2M336.1,468.1V474.3" stroke="#2b406a" stroke-width="1.7" fill="none"/>
<path d="M335.3,471.2H341.5M338.4,468.1V474.3" stroke="#2b406a" stroke-width="1.7" fill="none"/>
<path d="M339.9,471.2H346.1M343.0,468.1V474.3" stroke="#2b406a" stroke-width="1.7" fill="none"/>
<path d="M343.4,471.2H349.6M346.5,468.1V474.3" stroke="#2b406a" stroke-width="1.7" fill="none"/>
<path d="M348.0,471.2H354.2M351.1,468.1V474.3" stroke="#2b406a" stroke-width="1.7" fill="none"/>
<path d="M353.7,471.2H359.9M356.8,468.1V474.3" stroke="#2b406a" stroke-width="1.7" fill="none"/>
<path d="M357.2,471.2H363.4M360.3,468.1V474.3" stroke="#2b406a" stroke-width="1.7" fill="none"/>
<path d="M367.6,471.2H373.8M370.7,468.1V474.3" stroke="#2b406a" stroke-width="1.7" fill="none"/>
<path d="M369.9,471.2H376.1M373.0,468.1V474.3" stroke="#2b406a" stroke-width="1.7" fill="none"/>
<path d="M371.5,471.2H377.7M374.6,468.1V474.3" stroke="#2b406a" stroke-width="1.7" fill="none"/>
<path d="M373.4,471.2H379.6M376.5,468.1V474.3" stroke="#2b406a" stroke-width="1.7" fill="none"/>
<path d="M129.5,441.1H135.7M132.6,438.0V444.2" stroke="#2b406a" stroke-width="1.7" fill="none"/>
<circle cx="140.8" cy="448.8" r="3.6" fill="#30508c"/>
<circle cx="146.8" cy="468.2" r="3.6" fill="#30508c"/>
<circle cx="155.7" cy="492.3" r="3.6" fill="#30508c"/>
<circle cx="175.2" cy="492.3" r="3.6" fill="#30508c"/>
<circle cx="190.3" cy="492.3" r="3.6" fill="#30508c"/>
<circle cx="203.3" cy="492.3" r="3.6" fill="#30508c"/>
<circle cx="206.4" cy="492.3" r="3.6" fill="#30508c"/>
<circle cx="209.6" cy="492.3" r="3.6" fill="#30508c"/>
<circle cx="231.6" cy="492.3" r="3.6" fill="#30508c"/>
<circle cx="234.3" cy="492.3" r="3.6" fill="#30508c"/>
<circle cx="237" cy="492.3" r="3.6" fill="#30508c"/>
<circle cx="283.9" cy="492.3" r="3.6" fill="#30508c"/>
<circle cx="316.6" cy="492.3" r="3.6" fill="#30508c"/>
<circle cx="349.3" cy="492.3" r="3.6" fill="#30508c"/>
<path d="M134.1,438.8 H136.3 V450 H137.8 V458 H139.8 V466 H143.2 V470 H144.5 V493.2 H145.8 V511.5 H147.5 V558.4 H154.2 V580.3 H158 V604.2 H202.3" stroke="#871636" stroke-width="1.6" fill="none" stroke-linejoin="miter" stroke-linecap="butt"/>
<path d="M134.1,438.8 H135 V441 H135.5 V444 H136 V447 H136.5 V450 H137 V453 H137.5 V456 H138.5 V459 H139.5 V462 H140.5 V465.5 H143 V470.8 H156.9 V475.5 H160.4 V481.3 H167.7 V487 H173 V492.3 H180.5 V499.5 H182.3 V504.5 H221.2 V512.8 H261 V522.3 H386" stroke="#871636" stroke-width="1.6" fill="none" stroke-linejoin="miter" stroke-linecap="butt"/>
<path d="M131.4,441.5H137.6M134.5,438.4V444.6" stroke="#871636" stroke-width="1.7" fill="none"/>
<path d="M131.4,444.5H137.6M134.5,441.4V447.6" stroke="#871636" stroke-width="1.7" fill="none"/>
<path d="M131.9,447.5H138.1M135.0,444.4V450.6" stroke="#871636" stroke-width="1.7" fill="none"/>
<path d="M131.9,450.0H138.1M135.0,446.9V453.1" stroke="#871636" stroke-width="1.7" fill="none"/>
<path d="M132.4,452.5H138.6M135.5,449.4V455.6" stroke="#871636" stroke-width="1.7" fill="none"/>
<path d="M132.4,454.2H138.6M135.5,451.1V457.3" stroke="#871636" stroke-width="1.7" fill="none"/>
<path d="M133.4,456.5H139.6M136.5,453.4V459.6" stroke="#871636" stroke-width="1.7" fill="none"/>
<path d="M148.8,470.8H155.0M151.9,467.7V473.9" stroke="#871636" stroke-width="1.7" fill="none"/>
<path d="M155.7,481.3H161.9M158.8,478.2V484.4" stroke="#871636" stroke-width="1.7" fill="none"/>
<path d="M161.5,481.3H167.7M164.6,478.2V484.4" stroke="#871636" stroke-width="1.7" fill="none"/>
<path d="M181.4,504.5H187.6M184.5,501.4V507.6" stroke="#871636" stroke-width="1.7" fill="none"/>
<path d="M182.9,504.5H189.1M186.0,501.4V507.6" stroke="#871636" stroke-width="1.7" fill="none"/>
<path d="M191.8,504.5H198.0M194.9,501.4V507.6" stroke="#871636" stroke-width="1.7" fill="none"/>
<path d="M202.0,504.5H208.2M205.1,501.4V507.6" stroke="#871636" stroke-width="1.7" fill="none"/>
<path d="M235.8,512.8H242.0M238.9,509.7V515.9" stroke="#871636" stroke-width="1.7" fill="none"/>
<path d="M237.8,512.8H244.0M240.9,509.7V515.9" stroke="#871636" stroke-width="1.7" fill="none"/>
<path d="M247.2,512.8H253.4M250.3,509.7V515.9" stroke="#871636" stroke-width="1.7" fill="none"/>
<path d="M268.6,522.3H274.8M271.7,519.2V525.4" stroke="#871636" stroke-width="1.7" fill="none"/>
<path d="M284.2,522.3H290.4M287.3,519.2V525.4" stroke="#871636" stroke-width="1.7" fill="none"/>
<path d="M293.2,522.3H299.4M296.3,519.2V525.4" stroke="#871636" stroke-width="1.7" fill="none"/>
<path d="M295.4,522.3H301.6M298.5,519.2V525.4" stroke="#871636" stroke-width="1.7" fill="none"/>
<path d="M303.6,522.3H309.8M306.7,519.2V525.4" stroke="#871636" stroke-width="1.7" fill="none"/>
<path d="M313.8,522.3H320.0M316.9,519.2V525.4" stroke="#871636" stroke-width="1.7" fill="none"/>
<path d="M334.0,522.3H340.2M337.1,519.2V525.4" stroke="#871636" stroke-width="1.7" fill="none"/>
<path d="M344.8,522.3H351.0M347.9,519.2V525.4" stroke="#871636" stroke-width="1.7" fill="none"/>
<path d="M360.1,522.3H366.3M363.2,519.2V525.4" stroke="#871636" stroke-width="1.7" fill="none"/>
<path d="M382.5,522.3H388.7M385.6,519.2V525.4" stroke="#871636" stroke-width="1.7" fill="none"/>
<circle cx="135.3" cy="439.5" r="3.6" fill="#b5102f"/>
<circle cx="136.5" cy="440.8" r="3.6" fill="#b5102f"/>
<circle cx="143.3" cy="469.5" r="3.6" fill="#b5102f"/>
<circle cx="144.5" cy="473.5" r="3.6" fill="#b5102f"/>
<circle cx="148.2" cy="511.9" r="3.6" fill="#b5102f"/>
<circle cx="202.3" cy="604.2" r="3.6" fill="#b5102f"/>
<line x1="384.9" y1="466.2" x2="384.9" y2="492.4" stroke="#000" stroke-width="2"/>
<line x1="411.8" y1="466.2" x2="411.8" y2="524" stroke="#000" stroke-width="2"/>
<line x1="432.5" y1="493.6" x2="432.5" y2="604.1" stroke="#000" stroke-width="2"/>
<line x1="391" y1="523" x2="391" y2="604.1" stroke="#000" stroke-width="2"/>
<text x="399.3" y="479.7" font-size="11" fill="#1e1e1e" text-anchor="middle" textLength="50.2" lengthAdjust="spacingAndGlyphs" transform="rotate(-90 399.3 479.7)">p=0.0327</text>
<text x="425.3" y="495.0" font-size="11" fill="#1e1e1e" text-anchor="middle" textLength="50.8" lengthAdjust="spacingAndGlyphs" transform="rotate(-90 425.3 495.0)">p=0.0003</text>
<text x="446.9" y="548.9" font-size="11" fill="#1e1e1e" text-anchor="middle" textLength="50.4" lengthAdjust="spacingAndGlyphs" transform="rotate(-90 446.9 548.9)">p=0.0109</text>
<text x="405.2" y="563.7" font-size="11" fill="#1e1e1e" text-anchor="middle" textLength="50.4" lengthAdjust="spacingAndGlyphs" transform="rotate(-90 405.2 563.7)">p=0.0009</text>
<text x="11.5" y="695.0" font-size="11" fill="#1e1e1e" font-weight="bold" textLength="84.2" lengthAdjust="spacingAndGlyphs">Number at risk</text>
<text x="454.2" y="695.0" font-size="11" fill="#1e1e1e" font-weight="bold" textLength="50.4" lengthAdjust="spacingAndGlyphs">censored</text>
<text x="11.0" y="709.28" font-size="11" fill="#1e1e1e" textLength="84.2" lengthAdjust="spacingAndGlyphs">ALL-type/single</text>
<text x="145.2" y="709.78" font-size="11" fill="#1e1e1e" text-anchor="end" textLength="21.5" lengthAdjust="spacingAndGlyphs">119</text>
<text x="181.2" y="709.78" font-size="11" fill="#1e1e1e" text-anchor="end" textLength="13.2" lengthAdjust="spacingAndGlyphs">75</text>
<text x="221.8" y="709.78" font-size="11" fill="#1e1e1e" text-anchor="end" textLength="13.2" lengthAdjust="spacingAndGlyphs">41</text>
<text x="262.4" y="709.78" font-size="11" fill="#1e1e1e" text-anchor="end" textLength="13.2" lengthAdjust="spacingAndGlyphs">25</text>
<text x="303.2" y="709.78" font-size="11" fill="#1e1e1e" text-anchor="end" textLength="13.2" lengthAdjust="spacingAndGlyphs">16</text>
<text x="339.6" y="709.78" font-size="11" fill="#1e1e1e" text-anchor="end" textLength="6.6" lengthAdjust="spacingAndGlyphs">8</text>
<text x="381.2" y="709.78" font-size="11" fill="#1e1e1e" text-anchor="end" textLength="6.6" lengthAdjust="spacingAndGlyphs">2</text>
<text x="421.6" y="709.78" font-size="11" fill="#1e1e1e" text-anchor="end" textLength="6.6" lengthAdjust="spacingAndGlyphs">0</text>
<text x="454.6" y="709.28" font-size="11" fill="#1e1e1e" font-weight="bold" textLength="20.1" lengthAdjust="spacingAndGlyphs">108</text>
<text x="11.0" y="723.56" font-size="11" fill="#1e1e1e" textLength="90.6" lengthAdjust="spacingAndGlyphs">ALL-type/bilineal</text>
<text x="145.2" y="724.06" font-size="11" fill="#1e1e1e" text-anchor="end" textLength="13.2" lengthAdjust="spacingAndGlyphs">24</text>
<text x="181.2" y="724.06" font-size="11" fill="#1e1e1e" text-anchor="end" textLength="13.2" lengthAdjust="spacingAndGlyphs">11</text>
<text x="221.8" y="724.06" font-size="11" fill="#1e1e1e" text-anchor="end" textLength="6.6" lengthAdjust="spacingAndGlyphs">6</text>
<text x="262.4" y="724.06" font-size="11" fill="#1e1e1e" text-anchor="end" textLength="6.6" lengthAdjust="spacingAndGlyphs">3</text>
<text x="303.2" y="724.06" font-size="11" fill="#1e1e1e" text-anchor="end" textLength="6.6" lengthAdjust="spacingAndGlyphs">2</text>
<text x="339.6" y="724.06" font-size="11" fill="#1e1e1e" text-anchor="end" textLength="6.6" lengthAdjust="spacingAndGlyphs">1</text>
<text x="381.2" y="724.06" font-size="11" fill="#1e1e1e" text-anchor="end" textLength="6.6" lengthAdjust="spacingAndGlyphs">0</text>
<text x="421.6" y="724.06" font-size="11" fill="#1e1e1e" text-anchor="end" textLength="6.6" lengthAdjust="spacingAndGlyphs">0</text>
<text x="454.6" y="723.56" font-size="11" fill="#1e1e1e" font-weight="bold" textLength="13.4" lengthAdjust="spacingAndGlyphs">19</text>
<text x="11.0" y="737.84" font-size="11" fill="#1e1e1e" textLength="88.6" lengthAdjust="spacingAndGlyphs">AML-type/single</text>
<text x="145.2" y="738.34" font-size="11" fill="#1e1e1e" text-anchor="end" textLength="13.2" lengthAdjust="spacingAndGlyphs">42</text>
<text x="181.2" y="738.34" font-size="11" fill="#1e1e1e" text-anchor="end" textLength="13.2" lengthAdjust="spacingAndGlyphs">23</text>
<text x="221.8" y="738.34" font-size="11" fill="#1e1e1e" text-anchor="end" textLength="13.2" lengthAdjust="spacingAndGlyphs">15</text>
<text x="262.4" y="738.34" font-size="11" fill="#1e1e1e" text-anchor="end" textLength="13.2" lengthAdjust="spacingAndGlyphs">11</text>
<text x="303.2" y="738.34" font-size="11" fill="#1e1e1e" text-anchor="end" textLength="6.6" lengthAdjust="spacingAndGlyphs">8</text>
<text x="339.6" y="738.34" font-size="11" fill="#1e1e1e" text-anchor="end" textLength="6.6" lengthAdjust="spacingAndGlyphs">4</text>
<text x="381.2" y="738.34" font-size="11" fill="#1e1e1e" text-anchor="end" textLength="6.6" lengthAdjust="spacingAndGlyphs">1</text>
<text x="421.6" y="738.34" font-size="11" fill="#1e1e1e" text-anchor="end" textLength="6.6" lengthAdjust="spacingAndGlyphs">0</text>
<text x="454.6" y="737.84" font-size="11" fill="#1e1e1e" font-weight="bold" textLength="13.4" lengthAdjust="spacingAndGlyphs">28</text>
<text x="11.0" y="752.12" font-size="11" fill="#1e1e1e" textLength="95.6" lengthAdjust="spacingAndGlyphs">AML-type/bilineal</text>
<text x="145.2" y="752.62" font-size="11" fill="#1e1e1e" text-anchor="end" textLength="13.2" lengthAdjust="spacingAndGlyphs">12</text>
<text x="181.2" y="752.62" font-size="11" fill="#1e1e1e" text-anchor="end" textLength="6.6" lengthAdjust="spacingAndGlyphs">1</text>
<text x="221.8" y="752.62" font-size="11" fill="#1e1e1e" text-anchor="end" textLength="6.6" lengthAdjust="spacingAndGlyphs">0</text>
<text x="262.4" y="752.62" font-size="11" fill="#1e1e1e" text-anchor="end" textLength="6.6" lengthAdjust="spacingAndGlyphs">0</text>
<text x="303.2" y="752.62" font-size="11" fill="#1e1e1e" text-anchor="end" textLength="6.6" lengthAdjust="spacingAndGlyphs">0</text>
<text x="339.6" y="752.62" font-size="11" fill="#1e1e1e" text-anchor="end" textLength="6.6" lengthAdjust="spacingAndGlyphs">0</text>
<text x="381.2" y="752.62" font-size="11" fill="#1e1e1e" text-anchor="end" textLength="6.6" lengthAdjust="spacingAndGlyphs">0</text>
<text x="421.6" y="752.62" font-size="11" fill="#1e1e1e" text-anchor="end" textLength="6.6" lengthAdjust="spacingAndGlyphs">0</text>
<text x="454.6" y="752.12" font-size="11" fill="#1e1e1e" font-weight="bold" textLength="6.7" lengthAdjust="spacingAndGlyphs">4</text>
<rect x="1" y="1" width="518" height="769" fill="none" stroke="#000" stroke-width="2"/>
</g></svg>
</body></html>
